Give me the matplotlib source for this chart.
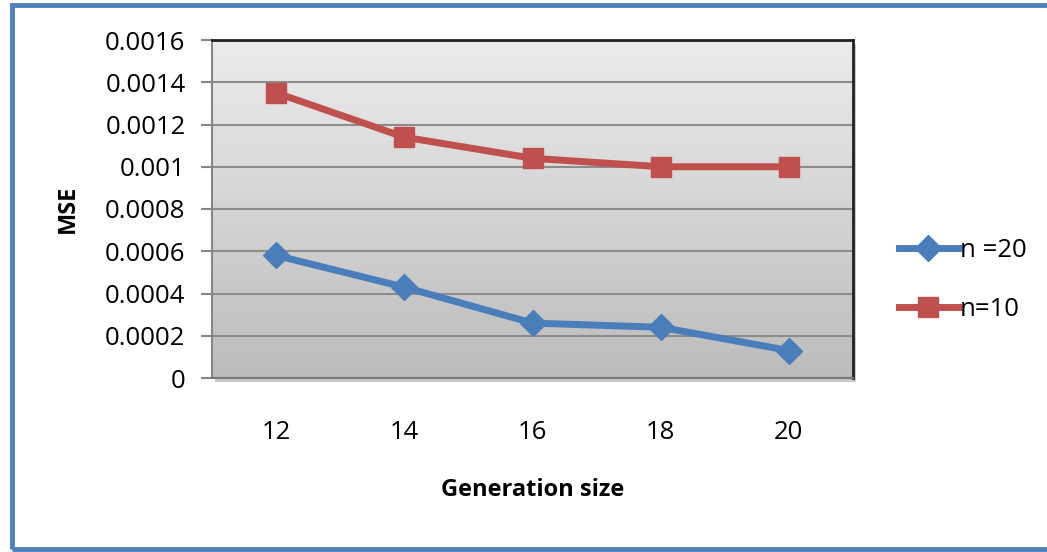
import numpy as np
import matplotlib
matplotlib.use("Agg")
import matplotlib.pyplot as plt
from matplotlib.patches import Rectangle
from matplotlib.colors import LinearSegmentedColormap

categories = ["12", "14", "16", "18", "20"]
n20 = [0.00058, 0.00043, 0.00026, 0.00024, 0.00013]
n10 = [0.00135, 0.00114, 0.00104, 0.00100, 0.00100]
yticks = [0, 0.0002, 0.0004, 0.0006, 0.0008, 0.001, 0.0012, 0.0014, 0.0016]
ytick_labels = ["0", "0.0002", "0.0004", "0.0006", "0.0008", "0.001", "0.0012", "0.0014", "0.0016"]

W, H = 1047, 552
fig = plt.figure(figsize=(W / 100, H / 100), dpi=100)
plt.rcParams['font.family'] = ['Open Sans', 'DejaVu Sans']

# outer blue frame
fig.patches.append(Rectangle((12 / W, 1 - 549 / H), 1.2, (549 - 5) / H,
                             transform=fig.transFigure, fill=False,
                             edgecolor="#4f81bd", linewidth=3.5, zorder=-2))

L, R, T, B = 212, 853, 40, 378
ax = fig.add_axes([L / W, 1 - B / H, (R - L) / W, (B - T) / H])

# shadow
fig.patches.append(Rectangle(((L + 3) / W, 1 - (B + 4) / H), (R - L) / W, (B - T) / H,
                             transform=fig.transFigure, facecolor="#c8c8c8",
                             edgecolor="none", zorder=-1))

# gradient background (light top, darker bottom)
grad = np.linspace(1, 0, 256).reshape(-1, 1)
cmap = LinearSegmentedColormap.from_list("g", ["#ececec", "#bcbcbc"])
ax.imshow(grad, cmap=cmap, aspect="auto", extent=[0, 1, 0, 1], origin="lower",
          transform=ax.transAxes, zorder=0)

x = np.arange(len(categories))
ax.plot(x, n20, color="#4a7ebb", linewidth=5, marker="D", markersize=13,
        label="n =20", zorder=3)
ax.plot(x, n10, color="#c0504d", linewidth=5, marker="s", markersize=14,
        label="n=10", zorder=3)

ax.set_xlim(-0.5, len(categories) - 0.5)
ax.set_ylim(0, 0.0016)
ax.set_yticks(yticks)
ax.set_yticklabels(ytick_labels, fontsize=18.5)
ax.set_xticks(x)
ax.set_xticklabels(categories, fontsize=18.5)
ax.tick_params(axis="x", length=0, pad=30)
ax.tick_params(axis="y", length=8, width=1.5, color="#868686", direction="out", pad=11)
ax.yaxis.grid(True, color="#8c8c8c", linewidth=1.5, zorder=1)
ax.set_axisbelow(True)

for s in ["top", "right"]:
    ax.spines[s].set_color("#222222")
    ax.spines[s].set_linewidth(2)
ax.spines["left"].set_color("#868686")
ax.spines["left"].set_linewidth(1.5)
ax.spines["bottom"].set_color("#777777")
ax.spines["bottom"].set_linewidth(1.5)

ax.set_ylabel("MSE", fontsize=17, fontweight="bold", labelpad=18)
ax.set_xlabel("Generation size", fontsize=17, fontweight="bold", labelpad=24)

ax.legend(loc="center left", bbox_to_anchor=(1.035, 0.29), frameon=False,
          fontsize=18.5, handlelength=2.3, labelspacing=1.35, handletextpad=0.1)

fig.savefig("out.png", dpi=100)
